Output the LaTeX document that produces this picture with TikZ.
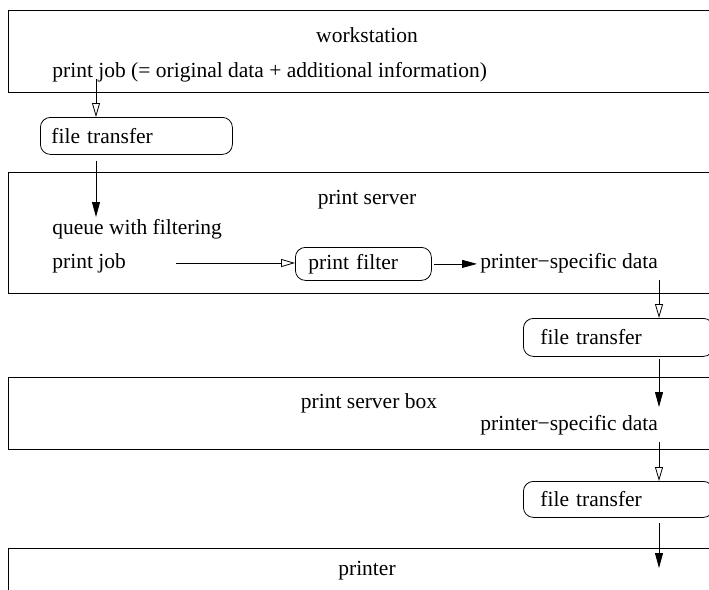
\documentclass[tikz,border=0pt]{standalone}
\usepackage{fontspec}
\setmainfont{Liberation Serif}
\usetikzlibrary{arrows.meta}
\begin{document}
\begin{tikzpicture}[x=1pt,y=-1pt, line width=0.8pt, font=\fontsize{21.5}{26}\selectfont,
  lbl/.style={anchor=base west, inner sep=0pt},
  ctr/.style={anchor=base, inner sep=0pt},
  region/.style={draw, anchor=north west, minimum width=722pt, inner sep=0pt},
  rbox/.style={draw, rounded corners=10pt, anchor=north west, align=left, inner ysep=0pt},
  openarr/.style={-{Triangle[open,length=14pt,width=8pt]}},
  fillarr/.style={-{Triangle[length=15pt,width=8pt]}}]
\useasboundingbox (0,0) rectangle (709,589);
\clip (0,0) rectangle (709,589);
% regions
\node[region, minimum height=82pt] (ws) at (8,10) {};
\node[region, minimum height=121pt] (ps) at (8,172) {};
\node[region, minimum height=72pt] (psb) at (8,377) {};
\node[region, minimum height=100pt] (pr) at (8,548) {};
% texts
\node[ctr] (wst) at (367,42) {workstation};
\node[lbl] (pj1) at (52,77) {print job (= original data + additional information)};
\node[ctr] (pst) at (367,204) {print server};
\node[lbl] (qf) at (52,234) {queue with filtering};
\node[lbl] (pj2) at (52,268) {print job};
\node[lbl] (psd1) at (480,268) {printer−specific data};
\node[ctr] (psbt) at (369,408) {print server box};
\node[lbl] (psd2) at (480,430) {printer−specific data};
\node[ctr] (prt) at (367,575) {printer};
% rounded boxes
\node[rbox, minimum height=37pt, text width=170pt, inner xsep=11pt] (ft1) at (40,117) {file transfer};
\node[rbox, minimum height=33pt, text width=110pt, inner xsep=13pt] (pf) at (295,247) {print filter};
\node[rbox, minimum height=38pt, text width=156pt, inner xsep=17pt] (ft2) at (523,318) {file transfer};
\node[rbox, minimum height=36pt, text width=156pt, inner xsep=17pt] (ft3) at (523,481) {file transfer};
% connector coordinates
\coordinate (a1) at (96,79);
\coordinate (a2) at (96,161);
\coordinate (a2e) at (96,217);
\coordinate (h1) at (176,263);
\coordinate (b1) at (659,280);
\coordinate (b2) at (659,359);
\coordinate (b2e) at (659,407);
\coordinate (b3) at (659,442);
\coordinate (b4) at (659,523);
\coordinate (b4e) at (659,568);
% connectors
\draw[openarr] (a1) -- (a1 |- ft1.north);
\draw[fillarr] (a2) -- (a2e);
\draw[openarr] (h1) -- (h1 -| pf.west);
\draw[fillarr] ([xshift=2pt]pf.east) -- ([xshift=-3pt]pf.east -| psd1.west);
\draw[openarr] (b1) -- (b1 |- ft2.north);
\draw[fillarr] (b2) -- (b2e);
\draw[openarr] (b3) -- (b3 |- ft3.north);
\draw[fillarr] (b4) -- (b4e);
\end{tikzpicture}
\end{document}
